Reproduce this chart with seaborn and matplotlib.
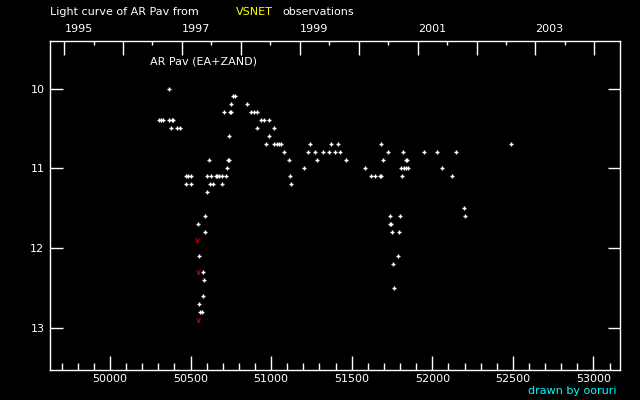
import numpy as np
import pandas as pd
import matplotlib
matplotlib.use("Agg")
import matplotlib.pyplot as plt
import seaborn as sns
from matplotlib.ticker import MultipleLocator

# visual estimates (MJD, magnitude)
mjd = [50367,
       50764, 50777,
       50752, 50851,
       50708, 50745, 50752, 50878, 50893, 50911,
       50303, 50317, 50332, 50367, 50382, 50392, 50938, 50957, 50984,
       50379, 50419, 50435, 50913, 51019,
       50739, 50988,
       50969, 51019, 51034, 51048, 51062, 51242, 51372, 51416, 51683, 52490,
       51081, 51230, 51273, 51323, 51360, 51397, 51428, 51726, 51819, 51950, 52030, 52148,
       50615, 50732, 50739, 51112, 51286, 51466, 51695, 51836, 51845,
       50727, 51205, 51584, 51805, 51824, 51836, 51850, 52061,
       50472, 50487, 50502, 50603, 50630, 50655, 50667, 50675, 50694, 50721,
       51118, 51621, 51646, 51673, 51679, 51813, 52124,
       50472, 50503, 50620, 50640, 50696, 51124,
       50605,
       52198,
       50590, 51739, 51801, 52204,
       50547, 51740, 51746,
       50590, 51751, 51795,
       50553, 51788,
       51757,
       50578,
       50584,
       51764,
       50578,
       50553,
       50559, 50572]
mag = [10.0,
       10.1, 10.1,
       10.2, 10.2,
       10.3, 10.3, 10.3, 10.3, 10.3, 10.3,
       10.4, 10.4, 10.4, 10.4, 10.4, 10.4, 10.4, 10.4, 10.4,
       10.5, 10.5, 10.5, 10.5, 10.5,
       10.6, 10.6,
       10.7, 10.7, 10.7, 10.7, 10.7, 10.7, 10.7, 10.7, 10.7, 10.7,
       10.8, 10.8, 10.8, 10.8, 10.8, 10.8, 10.8, 10.8, 10.8, 10.8, 10.8, 10.8,
       10.9, 10.9, 10.9, 10.9, 10.9, 10.9, 10.9, 10.9, 10.9,
       11.0, 11.0, 11.0, 11.0, 11.0, 11.0, 11.0, 11.0,
       11.1, 11.1, 11.1, 11.1, 11.1, 11.1, 11.1, 11.1, 11.1, 11.1,
       11.1, 11.1, 11.1, 11.1, 11.1, 11.1, 11.1,
       11.2, 11.2, 11.2, 11.2, 11.2, 11.2,
       11.3,
       11.5,
       11.6, 11.6, 11.6, 11.6,
       11.7, 11.7, 11.7,
       11.8, 11.8, 11.8,
       12.1, 12.1,
       12.2,
       12.3,
       12.4,
       12.5,
       12.6,
       12.7,
       12.8, 12.8]

# fainter-than estimates (red)
lim_mjd = [50541, 50547, 50547]
lim_mag = [11.9, 12.3, 12.9]

years = list(range(1995, 2005))
year_mjd = [49718, 50083, 50449, 50814, 51179, 51544, 51910, 52275, 52640, 53005]

df = pd.DataFrame({"mjd": mjd, "mag": mag})
lim = pd.DataFrame({"mjd": lim_mjd, "mag": lim_mag})

sns.set_style("ticks", rc={"axes.facecolor": "black", "figure.facecolor": "black",
                           "axes.edgecolor": "white", "xtick.color": "white",
                           "ytick.color": "white", "text.color": "white"})
plt.rcParams["font.family"] = ["DejaVu Sans"]

fig = plt.figure(figsize=(6.4, 4), dpi=100)
ax = fig.add_axes([0.0781, 0.075, 0.8913, 0.8225])

sns.scatterplot(data=df, x="mjd", y="mag", marker="+", color="white",
                s=8, linewidth=1, ax=ax, legend=False)
sns.scatterplot(data=lim, x="mjd", y="mag", marker=r"$\vee$", color="red",
                s=14, linewidth=0, ax=ax, legend=False)

ax.set_xlim(49628, 53167)
ax.set_ylim(13.52, 9.406)
ax.set_xlabel("")
ax.set_ylabel("")
for sp in ax.spines.values():
    sp.set_color("white")
    sp.set_linewidth(1)

ax.xaxis.set_major_locator(MultipleLocator(500))
ax.xaxis.set_minor_locator(MultipleLocator(100))
ax.yaxis.set_major_locator(MultipleLocator(1))
ax.tick_params(axis="x", which="major", direction="in", length=10, width=1,
               labelsize=8, pad=3, top=False)
ax.tick_params(axis="x", which="minor", direction="in", length=5, width=1, top=False)
ax.tick_params(axis="y", which="major", direction="in", length=9, width=1,
               labelsize=8, pad=4, right=True)

# top axis in calendar years
ax2 = ax.twiny()
ax2.set_xlim(ax.get_xlim())
ax2.set_xticks(year_mjd)
ax2.set_xticklabels([str(y) if y % 2 == 1 else "" for y in years])
ax2.set_xticks([m + 181 for m in year_mjd[:-1]], minor=True)
ax2.tick_params(axis="x", which="major", direction="in", length=10, width=1,
                labelsize=8, pad=5, colors="white")
ax2.tick_params(axis="x", which="minor", direction="in", length=3, width=1)
for lab in ax2.get_xticklabels():
    lab.set_ha("left")
for sp in ax2.spines.values():
    sp.set_visible(False)

def px(x, y):
    return x / 640, 1 - y / 400

fig.text(*px(50, 12), "Light curve of AR Pav from", fontsize=8, va="center", color="white")
fig.text(*px(236, 12), "VSNET", fontsize=8, va="center", color="yellow")
fig.text(*px(282, 12), "observations", fontsize=8, va="center", color="white")
fig.text(*px(150, 61), "AR Pav (EA+ZAND)", fontsize=8, va="center", color="white")
fig.text(*px(617, 391), "drawn by ooruri", fontsize=8, va="center", ha="right", color="cyan")

fig.savefig("out.png", dpi=100, facecolor="black")
